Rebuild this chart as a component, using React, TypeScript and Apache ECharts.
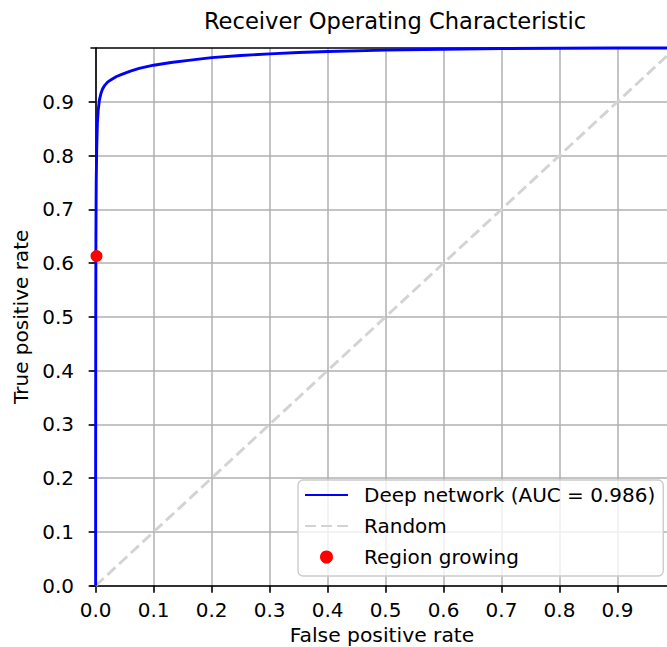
import React, { useEffect, useRef } from "react";
import * as echarts from "echarts";

const FPR = [0, 0, 0.0002, 0.0005, 0.001, 0.0018, 0.003, 0.0045, 0.0065, 0.009, 0.012, 0.016, 0.021, 0.028, 0.036, 0.045, 0.06, 0.075, 0.1, 0.13, 0.16, 0.2, 0.25, 0.3, 0.35, 0.4, 0.5, 0.6, 0.7, 0.8, 0.9, 1];
const TPR = [0, 0.2, 0.5, 0.65, 0.75, 0.81, 0.86, 0.885, 0.903, 0.915, 0.924, 0.931, 0.937, 0.942, 0.947, 0.951, 0.957, 0.962, 0.968, 0.973, 0.977, 0.982, 0.986, 0.989, 0.9915, 0.9935, 0.996, 0.9978, 0.999, 0.9996, 0.9999, 1];
const RANDOM_X = [0, 1];
const RANDOM_Y = [0, 1];
const RG_FPR = [0.0015];
const RG_TPR = [0.613];
const X_TICKS = [0, 0.1, 0.2, 0.3, 0.4, 0.5, 0.6, 0.7, 0.8, 0.9];
const Y_TICKS = [0, 0.1, 0.2, 0.3, 0.4, 0.5, 0.6, 0.7, 0.8, 0.9];

const X_MIN = -0.008;
const X_MAX = 0.9854;
const FONT = "DejaVu Sans";

export default function App() {
  const ref = useRef<HTMLDivElement>(null);
  useEffect(() => {
    if (!ref.current) return;
    const chart = echarts.init(ref.current, undefined, { renderer: "svg" });
    const spine = { show: true, lineStyle: { color: "#000", width: 1.6 } };
    const tick = { show: true, length: 7, lineStyle: { color: "#000", width: 1.6 } };
    const grid = { show: true, lineStyle: { color: "#b0b0b0", width: 1.5 } };
    chart.setOption({
      animation: false,
      backgroundColor: "#fff",
      textStyle: { fontFamily: FONT },
      grid: { left: 91, top: 48, right: 0, bottom: 61.3 },
      graphic: [
        {
          type: "text",
          x: 395,
          y: 21,
          style: {
            text: "Receiver Operating Characteristic",
            fontSize: 22.6,
            fontFamily: FONT,
            fill: "#000",
            align: "center",
            verticalAlign: "middle",
          },
        },
        {
          type: "text",
          x: 382,
          y: 635,
          style: {
            text: "False positive rate",
            fontSize: 20.3,
            fontFamily: FONT,
            fill: "#000",
            align: "center",
            verticalAlign: "middle",
          },
        },
      ],
      xAxis: [
        {
          type: "value",
          min: X_MIN,
          max: X_MAX,
          splitNumber: 10,
          axisLine: spine,
          axisTick: { ...tick, customValues: X_TICKS },
          splitLine: grid,
          axisLabel: {
            customValues: X_TICKS,
            margin: 14,
            fontSize: 20,
            fontFamily: FONT,
            color: "#000",
            formatter: (v: number) => (v < -0.001 || v > 0.95 ? "" : v.toFixed(1)),
          },
        },
        {
          type: "value",
          position: "top",
          min: X_MIN,
          max: X_MAX,
          axisLine: spine,
          axisTick: { show: false },
          axisLabel: { show: false },
          splitLine: { show: false },
        },
      ],
      yAxis: {
        type: "value",
        min: 0,
        max: 1,
        interval: 0.1,
        name: "True positive rate",
        nameLocation: "middle",
        nameGap: 59,
        nameTextStyle: { fontSize: 20, fontFamily: FONT, color: "#000" },
        axisLine: spine,
        axisTick: { ...tick, customValues: Y_TICKS },
        splitLine: grid,
        axisLabel: {
          customValues: Y_TICKS,
          margin: 17,
          fontSize: 20,
          fontFamily: FONT,
          color: "#000",
          formatter: (v: number) => (v > 0.95 ? "" : v.toFixed(1)),
        },
      },
      legend: {
        orient: "vertical",
        left: 298,
        top: 480,
        itemWidth: 43,
        itemHeight: 13,
        itemGap: 11,
        padding: [5, 8, 9, 6],
        backgroundColor: "rgba(255,255,255,0.8)",
        borderColor: "#cccccc",
        borderWidth: 1.4,
        borderRadius: 5,
        textStyle: {
          fontSize: 20,
          lineHeight: 20,
          fontFamily: FONT,
          color: "#000",
          padding: [0, 0, 0, 11],
        },
        data: [
          { name: "Deep network (AUC = 0.986)", itemStyle: { opacity: 0 } },
          { name: "Random", itemStyle: { opacity: 0 } },
          { name: "Region growing" },
        ],
      },
      series: [
        {
          name: "Deep network (AUC = 0.986)",
          type: "line",
          data: FPR.map((x, i) => [x, TPR[i]]),
          symbol: "none",
          clip: false,
          lineStyle: { color: "#0000ff", width: 2.9 },
          itemStyle: { color: "#0000ff" },
          z: 3,
        },
        {
          name: "Random",
          type: "line",
          data: RANDOM_X.map((x, i) => [x, RANDOM_Y[i]]),
          symbol: "none",
          clip: false,
          lineStyle: { color: "#d3d3d3", width: 2.9, type: [11, 5] },
          itemStyle: { color: "#d3d3d3" },
          z: 2,
        },
        {
          name: "Region growing",
          type: "scatter",
          data: RG_FPR.map((x, i) => [x, RG_TPR[i]]),
          symbol: "circle",
          symbolSize: 12,
          itemStyle: { color: "#ff0000", opacity: 1 },
          z: 4,
        },
      ],
    });
    return () => chart.dispose();
  }, []);
  return (
    <div
      ref={ref}
      style={{ position: "fixed", left: 0, top: 0, width: 667, height: 647 }}
    />
  );
}
